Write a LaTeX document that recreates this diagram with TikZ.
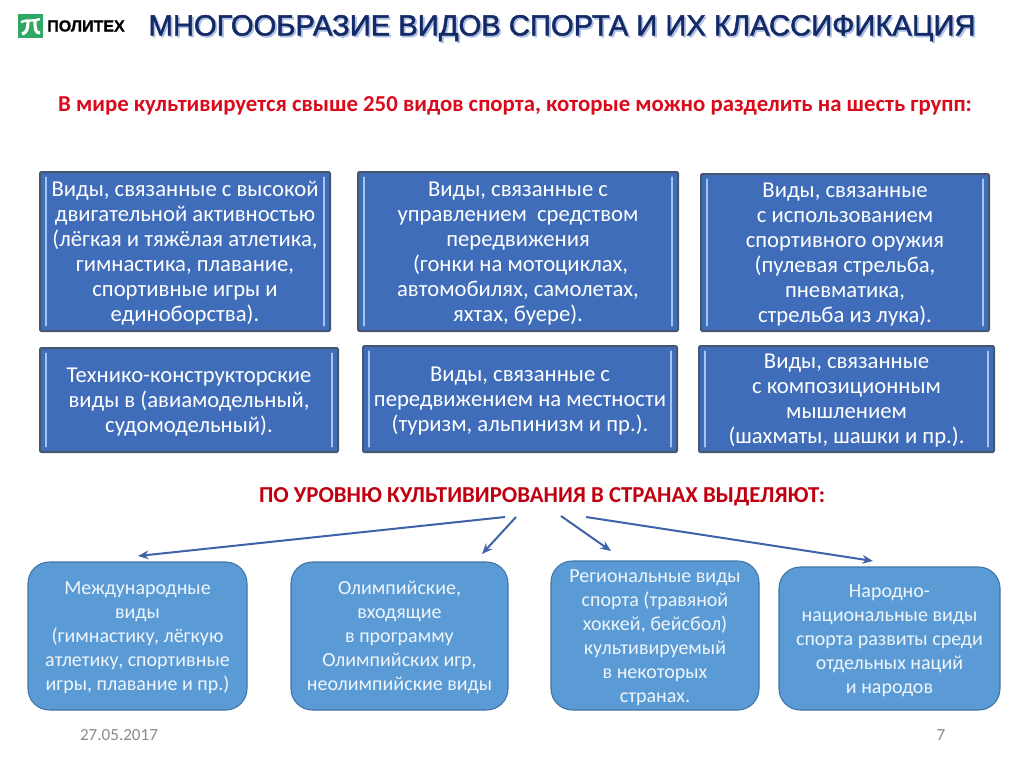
\documentclass[tikz,border=0pt]{standalone}
\usepackage{fontspec}
\setmainfont{Carlito}
\newfontfamily\titlefont[FakeBold=1.6]{Liberation Sans}
\newfontfamily\logofont[FakeBold=0.8]{Liberation Sans Bold}
\usetikzlibrary{arrows.meta,calc}
\definecolor{boxblue}{HTML}{3F6DBA}
\definecolor{boxedge}{HTML}{46566F}
\definecolor{boxbar}{HTML}{A3C4EC}
\definecolor{roundblue}{HTML}{5B9BD5}
\definecolor{roundedge}{HTML}{3F74A6}
\definecolor{roundtext}{HTML}{EEF5FB}
\definecolor{arrowblue}{HTML}{3F62A8}
\definecolor{headred}{HTML}{DA0A1C}
\definecolor{subred}{HTML}{C00010}
\definecolor{titlenavy}{HTML}{142A66}
\definecolor{titleglow}{HTML}{AFC0E4}
\definecolor{footgray}{HTML}{8B8B8B}
\definecolor{logogreen}{HTML}{2FA866}
\tikzset{
  x=0.75pt,y=-0.75pt,
  bevelbox/.style={draw=boxedge,line width=1.5pt,fill=boxblue,text=white,inner sep=0pt,rounded corners=1pt,
    font=\fontsize{17}{18.75}\selectfont,
    path picture={
      \draw[boxbar,line width=1.5pt,line cap=round]
        ([xshift=4.5pt,yshift=-4pt]path picture bounding box.north west) -- ([xshift=4.5pt,yshift=4pt]path picture bounding box.south west)
        ([xshift=-4.5pt,yshift=-4pt]path picture bounding box.north east) -- ([xshift=-4.5pt,yshift=4pt]path picture bounding box.south east);
    }},
  softbox/.style={draw=roundedge,line width=0.8pt,fill=roundblue,text=roundtext,rounded corners=16pt,inner sep=0pt,
    font=\fontsize{15}{18}\selectfont},
  linkarrow/.style={draw=arrowblue,line width=1.5pt,-{Stealth[length=8pt,width=6.5pt]}},
  foot/.style={text=footgray,font=\fontsize{12.8}{14}\selectfont,inner sep=0pt}
}
\newcommand{\boxat}[7]{% style,name,x1,y1,x2,y2,text
  \path let \n1={(#3+#5)/2}, \n2={(#4+#6)/2} in node[#1,minimum width={(#5-#3)*0.75pt},minimum height={(#6-#4)*0.75pt}] (#2) at (\n1,\n2) {\raisebox{-1.5pt}[\height][\depth]{\begin{tabular}{@{}c@{}}#7\end{tabular}}};}
\begin{document}
\begin{tikzpicture}
\useasboundingbox (0,0) rectangle (1024,767);
\fill[white] (0,0) rectangle (1024,767);
% logo
\fill[logogreen] (18,14) rectangle (43,38);
\draw[white,line width=1.8pt] (21,22) .. controls (27,19) and (34,22) .. (40,19);
\draw[white,line width=2.4pt] (28,21) .. controls (28,28) and (27,33) .. (22,34);
\draw[white,line width=2.4pt] (35,21) .. controls (35,28) and (35,33) .. (40,33);
\node[inner sep=0pt,font=\logofont\fontsize{12}{13}\selectfont,text=black] (logo) at (86,26) {ПОЛИТЕХ};
% title
\node[inner sep=0pt,text=titlenavy,font=\titlefont\fontsize{21.9}{26}\selectfont] (title) at (562,29) {\rlap{\hspace{1.3pt}\raisebox{-1.3pt}{\textcolor{titleglow}{МНОГООБРАЗИЕ ВИДОВ СПОРТА И ИХ КЛАССИФИКАЦИЯ}}}МНОГООБРАЗИЕ ВИДОВ СПОРТА И ИХ КЛАССИФИКАЦИЯ};
\node[inner sep=0pt,text=headred,font=\bfseries\fontsize{17.1}{18}\selectfont] (lead) at (515,106) {В мире культивируется свыше 250 видов спорта, которые можно разделить на шесть групп:};
% six boxes
\boxat{bevelbox}{a}{40}{172}{330}{331}{Виды, связанные с высокой\\двигательной активностью\\(лёгкая и тяжёлая атлетика,\\гимнастика, плавание,\\спортивные игры и\\единоборства).}
\boxat{bevelbox}{b}{358}{172}{678}{331}{Виды, связанные с\\управлением\ \ средством\\передвижения\\\ (гонки на мотоциклах,\\автомобилях, самолетах,\\яхтах, буере).}
\boxat{bevelbox}{c}{701}{174}{989}{331}{Виды, связанные\\с использованием\\спортивного оружия\\(пулевая стрельба,\\пневматика,\\стрельба из лука).}
\boxat{bevelbox}{d}{40}{348}{338}{452}{Технико-конструкторские\\виды в (авиамодельный,\\судомодельный).}
\boxat{bevelbox}{e}{363}{346}{677}{452}{Виды, связанные с\\передвижением на местности\\(туризм, альпинизм и пр.).}
\boxat{bevelbox}{f}{699}{346}{994}{452}{Виды, связанные\\с композиционным\\мышлением\\(шахматы, шашки и пр.).}
\node[inner sep=0pt,text=subred,font=\bfseries\fontsize{17.1}{18}\selectfont] (sub) at (542,497) {ПО УРОВНЮ КУЛЬТИВИРОВАНИЯ В СТРАНАХ ВЫДЕЛЯЮТ:};
% rounded boxes
\boxat{softbox}{g}{28}{562}{247}{710}{Международные\\виды\\(гимнастику, лёгкую\\атлетику, спортивные\\игры, плавание и пр.)}
\boxat{softbox}{h}{291}{562}{508}{710}{Олимпийские,\\входящие\\в программу\\Олимпийских игр,\\неолимпийские виды}
\boxat{softbox}{i}{551}{561}{759}{710}{Региональные виды\\спорта (травяной\\хоккей, бейсбол)\\культивируемый\\в некоторых\\странах.}
\boxat{softbox}{j}{779}{567}{1000}{710}{Народно-\\национальные виды\\спорта развиты среди\\отдельных наций\\и народов}
% arrows
\coordinate (s1) at (505,517); \coordinate (t1) at (138,556);
\coordinate (s2) at (516,517); \coordinate (t2) at (482,554);
\coordinate (s3) at (561,516); \coordinate (t3) at (611,551);
\coordinate (s4) at (586,517); \coordinate (t4) at (873,561);
\draw[linkarrow] (s1) -- (t1);
\draw[linkarrow] (s2) -- (t2);
\draw[linkarrow] (s3) -- (t3);
\draw[linkarrow] (s4) -- (t4);
% footer
\node[foot] (date) at (119,735) {27.05.2017};
\node[foot] (page) at (941,735) {7};
\end{tikzpicture}
\end{document}
